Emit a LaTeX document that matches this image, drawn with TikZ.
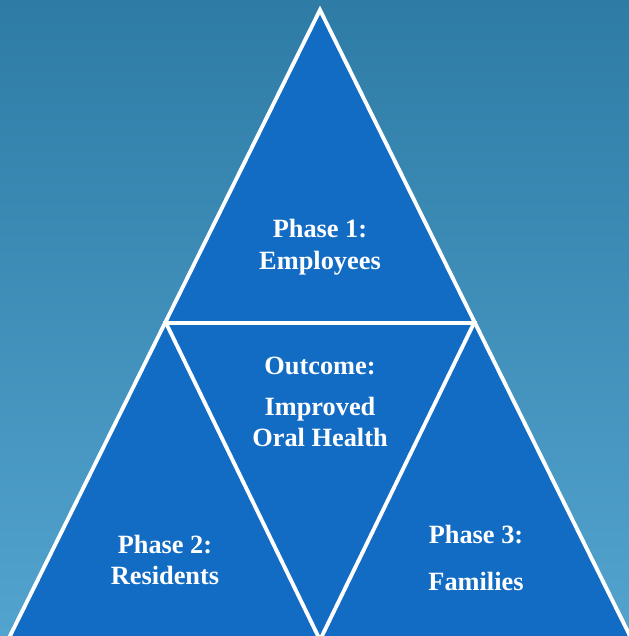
\documentclass[tikz,border=0pt]{standalone}
\usepackage{fontspec}
\setmainfont{Liberation Serif}
\definecolor{bgtop}{RGB}{46,124,166}
\definecolor{bgbot}{RGB}{82,163,206}
\definecolor{phasefill}{RGB}{19,108,196}
\begin{document}
\begin{tikzpicture}[x=0.02cm,y=-0.02cm]
        \tikzstyle{phase}=[text=white,font=\fontsize{15}{18}\selectfont\bfseries,align=center]
        \tikzstyle{edge}=[draw=white,line width=2.2pt,line join=miter]
       \useasboundingbox (0,0) rectangle (629,636);
       \clip (0,0) rectangle (629,636);
       \shade[top color=bgtop,bottom color=bgbot] (0,0) rectangle (629,636);
       \begin{scope}
         \coordinate (apex) at (320,10);
         \coordinate (bl) at (8,640);
         \coordinate (br) at (632,640);
         \coordinate (ml) at (166,323);
         \coordinate (mr) at (474,323);
         \coordinate (bm) at (320,640);
         \path[edge,fill=phasefill] (apex) -- (br) -- (bl) -- cycle;
         \path[edge] (ml) -- (mr) -- (bm) -- cycle;

         \node [phase] (ph1) at (320,247) {Phase 1:\\Employees};
         \node [phase] (outc) at (320,366) {Outcome:};
         \node [phase] (goal) at (320,422) {Improved\\Oral Health};
         \node [phase] (ph2) at (165,560) {Phase 2:\\Residents};
         \node [phase] (ph3) at (476,558) {Phase 3:\\[3mm]Families};
        \end{scope}
      \end{tikzpicture}
\end{document}
